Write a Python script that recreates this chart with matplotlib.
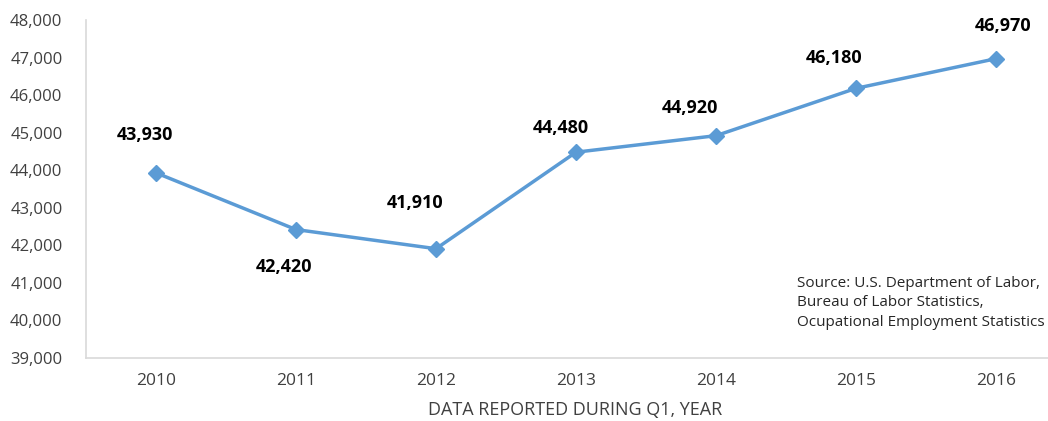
import matplotlib.pyplot as plt
from matplotlib.ticker import FuncFormatter

years = ['2010', '2011', '2012', '2013', '2014', '2015', '2016']
wages = [43930, 42420, 41910, 44480, 44920, 46180, 46970]
# hand-placed data label offsets (pixels, x right / y up) as in the source
label_dx = [-11, -12, -21, -15, -26, -22, 7]
label_dy = [38, -37, 46, 24, 28, 30, 33]

plt.rcParams['font.family'] = ['Open Sans', 'DejaVu Sans']

fig = plt.figure(figsize=(10.48, 4.21), dpi=100)
# axes runs past the right edge, like the source chart
ax = fig.add_axes([86 / 1048, 1 - 358 / 421, 980 / 1048, 338 / 421])

x = list(range(len(years)))
ax.plot(x, wages, color='#5B9BD5', linewidth=2.5, marker='D', markersize=8,
        markerfacecolor='#5B9BD5', markeredgecolor='#5B9BD5', zorder=3)

for xi, v, dx, dy in zip(x, wages, label_dx, label_dy):
    ax.annotate('{:,}'.format(v), (xi, v), xytext=(dx * 0.72, dy * 0.72),
                textcoords='offset points', ha='center', va='center',
                fontsize=13, fontweight='bold', color='black')

ax.set_xlim(-0.5, len(years) - 0.5)
ax.set_ylim(39000, 48000)
ax.set_yticks(range(39000, 48001, 1000))
ax.yaxis.set_major_formatter(FuncFormatter(lambda v, p: '{:,.0f}'.format(v)))
ax.set_xticks(x)
ax.set_xticklabels(years)

ax.tick_params(axis='y', length=0, pad=17, labelsize=12, labelcolor='#404040')
ax.tick_params(axis='x', length=0, pad=11, labelsize=12.5, labelcolor='#404040')

for s in ['top', 'right']:
    ax.spines[s].set_visible(False)
for s in ['left', 'bottom']:
    ax.spines[s].set_color('#D9D9D9')
    ax.spines[s].set_linewidth(1.2)

fig.text(575 / 1048, 1 - 410 / 421, 'DATA REPORTED DURING Q1, YEAR',
         ha='center', va='center', fontsize=13, color='#404040')

fig.text(797 / 1048, 1 - 303 / 421,
         'Source: U.S. Department of Labor,\nBureau of Labor Statistics,\nOcupational Employment Statistics',
         ha='left', va='center', fontsize=11, color='#262626', linespacing=1.4)

fig.savefig('out.png', dpi=100)
